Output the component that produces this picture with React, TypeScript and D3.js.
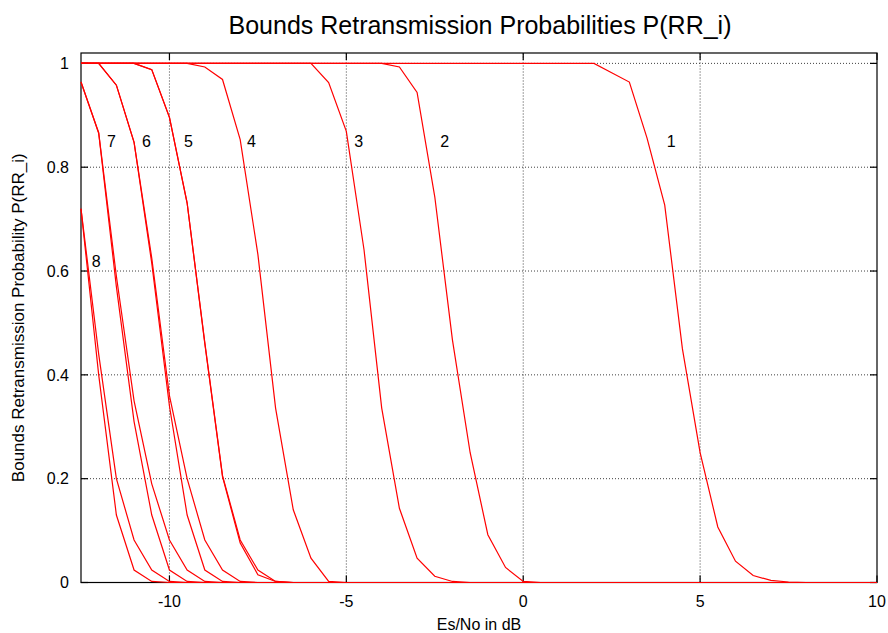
import React from 'react';
import * as d3 from 'd3';

const W = 888;
const H = 633;

const titleText = 'Bounds Retransmission Probabilities P(RR_i)';
const xLabelText = 'Es/No in dB';
const yLabelText = 'Bounds Retransmission Probability P(RR_i)';

const xTicks = [-10, -5, 0, 5, 10];
const xTickLabels = ['-10', '-5', '0', '5', '10'];
const yTicks = [0, 0.2, 0.4, 0.6, 0.8, 1];
const yTickLabels = ['0', '0.2', '0.4', '0.6', '0.8', '1'];

type P = [number, number];

// [Es/No dB, probability]
const rr1: P[] = [[-12.5, 1], [2, 1], [2.5, 0.982], [3, 0.964], [3.5, 0.856], [4, 0.727], [4.5, 0.45], [5, 0.25], [5.5, 0.107], [6, 0.041], [6.5, 0.0135], [7, 0.004], [7.5, 0.001], [8, 0], [10, 0]];
const rr2: P[] = [[-12.5, 1], [-4, 1], [-3.5, 0.993], [-3, 0.944], [-2.5, 0.743], [-2, 0.467], [-1.5, 0.25], [-1, 0.092], [-0.5, 0.029], [0, 0.002], [0.5, 0], [10, 0]];
const rr3: P[] = [[-12.5, 1], [-6, 1], [-5.5, 0.963], [-5, 0.869], [-4.5, 0.641], [-4, 0.336], [-3.5, 0.143], [-3, 0.047], [-2.5, 0.012], [-2, 0.002], [-1.5, 0], [10, 0]];
const rr4: P[] = [[-12.5, 1], [-9.5, 1], [-9, 0.993], [-8.5, 0.969], [-8, 0.853], [-7.5, 0.632], [-7, 0.336], [-6.5, 0.14], [-6, 0.047], [-5.5, 0.002], [-5, 0], [10, 0]];
const rr5Lo: P[] = [[-12.5, 1], [-11, 1], [-10.5, 0.988], [-10, 0.896], [-9.5, 0.731], [-9, 0.46], [-8.5, 0.204], [-8, 0.076], [-7.5, 0.015], [-7, 0.002], [-6.5, 0], [10, 0]];
const rr5Hi: P[] = [[-12.5, 1], [-11, 1], [-10.5, 0.988], [-10, 0.896], [-9.5, 0.731], [-9, 0.462], [-8.5, 0.206], [-8, 0.082], [-7.5, 0.024], [-7, 0.002], [-6.5, 0], [10, 0]];
const rr6Lo: P[] = [[-12.5, 1], [-12, 1], [-11.5, 0.958], [-11, 0.848], [-10.5, 0.615], [-10, 0.34], [-9.5, 0.13], [-9, 0.024], [-8.5, 0.002], [-8, 0], [10, 0]];
const rr6Hi: P[] = [[-12.5, 1], [-12, 1], [-11.5, 0.958], [-11, 0.848], [-10.5, 0.625], [-10, 0.36], [-9.5, 0.2], [-9, 0.082], [-8.5, 0.024], [-8, 0.002], [-7.5, 0], [10, 0]];
const rr7Lo: P[] = [[-12.5, 0.964], [-12, 0.866], [-11.5, 0.57], [-11, 0.31], [-10.5, 0.13], [-10, 0.024], [-9.5, 0.002], [-9, 0], [10, 0]];
const rr7Hi: P[] = [[-12.5, 0.964], [-12, 0.866], [-11.5, 0.59], [-11, 0.35], [-10.5, 0.19], [-10, 0.082], [-9.5, 0.024], [-9, 0.002], [-8.5, 0], [10, 0]];
const rr8Lo: P[] = [[-12.5, 0.72], [-12, 0.4], [-11.5, 0.13], [-11, 0.024], [-10.5, 0.002], [-10, 0], [10, 0]];
const rr8Hi: P[] = [[-12.5, 0.72], [-12, 0.44], [-11.5, 0.2], [-11, 0.082], [-10.5, 0.024], [-10, 0.002], [-9.5, 0], [10, 0]];

const seriesList: P[][] = [rr1, rr2, rr3, rr4, rr5Lo, rr5Hi, rr6Lo, rr6Hi, rr7Lo, rr7Hi, rr8Lo, rr8Hi];

const curveLabels = ['1', '2', '3', '4', '5', '6', '7', '8'];
const curveLabelX = [4.18, -2.22, -4.65, -7.68, -9.46, -10.65, -11.64, -12.07];
const curveLabelY = [0.85, 0.85, 0.85, 0.85, 0.85, 0.85, 0.85, 0.618];

const FONT = '"Liberation Sans", Arial, Helvetica, sans-serif';

export default function App() {
  const left = 81;
  const right = 877;
  const top = 53;
  const bottom = 582.5;

  const x = d3.scaleLinear().domain([-12.5, 10]).range([left, right]);
  const y = d3.scaleLinear().domain([0, 1.02]).range([bottom, top]);

  const line = d3
    .line<P>()
    .x((d) => x(d[0]))
    .y((d) => y(d[1]));

  const tickLen = 7;
  const fs = 16;

  return (
    <div style={{ position: 'absolute', left: 0, top: 0 }}>
      <svg width={W} height={H} style={{ display: 'block', background: '#fff' }} fontFamily={FONT}>
        <rect x={0} y={0} width={W} height={H} fill="#fff" />
        <text x={480} y={34} fontSize={25} textAnchor="middle" fill="#000">
          {titleText}
        </text>

        {/* grid */}
        <g stroke="#000" strokeWidth={1} strokeDasharray="1,2" opacity={0.75}>
          {xTicks
            .filter((t) => t > -12.5 && t < 10)
            .map((t) => (
              <line key={'gx' + t} x1={x(t)} x2={x(t)} y1={bottom} y2={top} />
            ))}
          {yTicks
            .filter((t) => t > 0)
            .map((t) => (
              <line key={'gy' + t} x1={left} x2={right} y1={y(t)} y2={y(t)} />
            ))}
        </g>

        {/* border */}
        <rect x={left} y={top} width={right - left} height={bottom - top} fill="none" stroke="#000" strokeWidth={1.2} />

        {/* ticks */}
        <g stroke="#000" strokeWidth={1.2}>
          {xTicks.map((t) => (
            <g key={'tx' + t}>
              <line x1={x(t)} x2={x(t)} y1={bottom} y2={bottom - tickLen} />
              <line x1={x(t)} x2={x(t)} y1={top} y2={top + tickLen} />
            </g>
          ))}
          {yTicks.map((t) => (
            <g key={'ty' + t}>
              <line x1={left} x2={left + tickLen} y1={y(t)} y2={y(t)} />
              <line x1={right} x2={right - tickLen} y1={y(t)} y2={y(t)} />
            </g>
          ))}
        </g>

        {/* tick labels */}
        <g fontSize={fs} fill="#000">
          {xTicks.map((t, i) => (
            <text key={'lx' + t} x={x(t)} y={607} textAnchor="middle">
              {xTickLabels[i]}
            </text>
          ))}
          {yTicks.map((t, i) => (
            <text key={'ly' + t} x={69} y={y(t) + 5.7} textAnchor="end">
              {yTickLabels[i]}
            </text>
          ))}
        </g>

        {/* axis labels */}
        <text x={479} y={630} fontSize={fs} textAnchor="middle" fill="#000">
          {xLabelText}
        </text>
        <text
          transform={`translate(24, ${(top + bottom) / 2}) rotate(-90)`}
          fontSize={17}
          textAnchor="middle"
          fill="#000"
        >
          {yLabelText}
        </text>

        {/* curves */}
        <g fill="none" stroke="#ff0000" strokeWidth={1.2} strokeLinejoin="miter">
          {seriesList.map((s, i) => (
            <path key={'s' + i} d={line(s) || ''} />
          ))}
        </g>

        {/* curve labels */}
        <g fontSize={fs} fill="#000">
          {curveLabels.map((l, i) => (
            <text key={'cl' + l} x={x(curveLabelX[i])} y={y(curveLabelY[i]) + 5.7} textAnchor="middle">
              {l}
            </text>
          ))}
        </g>
      </svg>
    </div>
  );
}
